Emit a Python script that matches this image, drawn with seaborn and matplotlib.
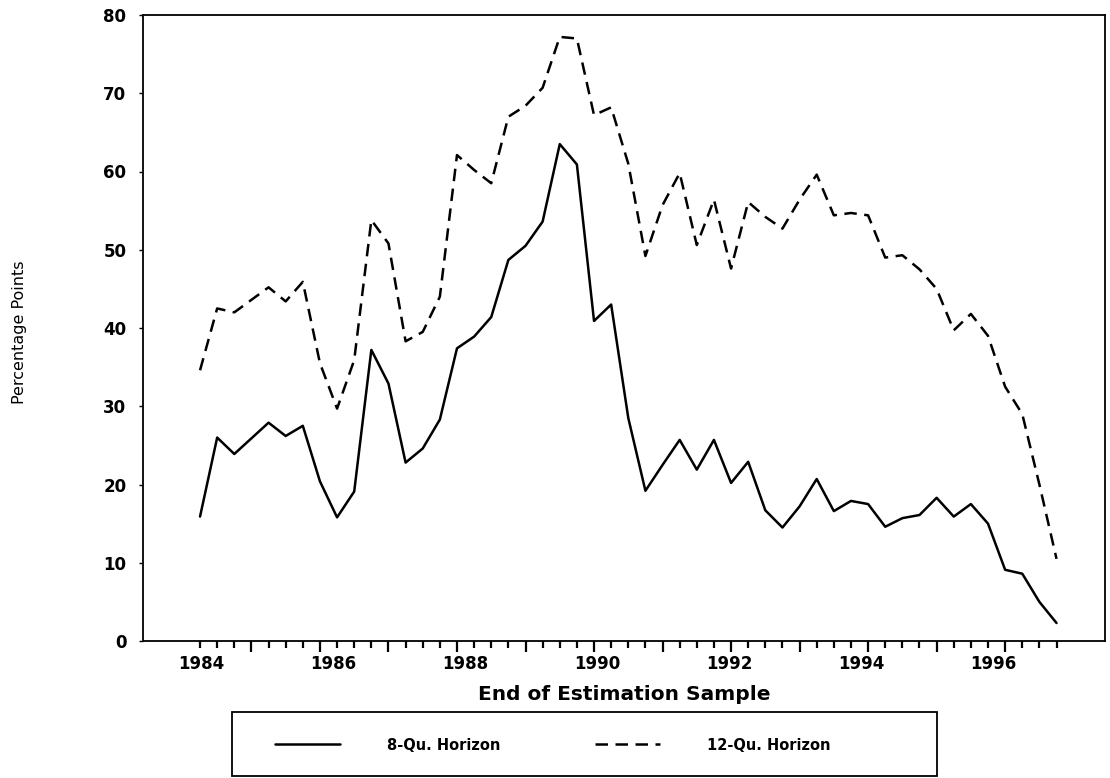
import matplotlib
matplotlib.use("Agg")
import matplotlib.pyplot as plt
from matplotlib.patches import Rectangle
import numpy as np
import pandas as pd
import seaborn as sns

# quarterly end-of-sample dates, 1984Q1 .. 1996Q3
quarters = 1984 + np.arange(51) / 4

h8 = [15.9, 26.0, 23.9, 25.9, 27.9, 26.2, 27.5, 20.4, 15.8, 19.1,
      37.2, 32.9, 22.8, 24.6, 28.3, 37.4, 38.9, 41.4, 48.7, 50.5,
      53.6, 63.5, 60.9, 40.9, 43.0, 28.5, 19.2, 22.5, 25.7, 21.9,
      25.7, 20.2, 22.9, 16.7, 14.5, 17.2, 20.7, 16.6, 17.9, 17.5,
      14.6, 15.7, 16.1, 18.3, 15.9, 17.5, 15.0, 9.1, 8.6, 5.0, 2.3]

h12 = [34.6, 42.5, 42.0, 43.6, 45.2, 43.4, 45.9, 35.5, 29.7, 35.9,
       53.8, 50.8, 38.3, 39.5, 44.0, 62.1, 60.2, 58.5, 67.0, 68.4,
       70.7, 77.2, 77.0, 67.2, 68.2, 61.0, 49.2, 55.7, 59.8, 50.6,
       56.4, 47.6, 56.1, 54.2, 52.7, 56.4, 59.6, 54.4, 54.7, 54.4,
       49.0, 49.3, 47.5, 45.0, 39.7, 41.8, 39.0, 32.5, 29.0, 20.0, 10.5]

series_names = ["8-Qu. Horizon", "12-Qu. Horizon"]
year_labels = ["1984", "1986", "1988", "1990", "1992", "1994", "1996"]
yticks = [0, 10, 20, 30, 40, 50, 60, 70, 80]

df = pd.concat([
    pd.DataFrame({"date": quarters, "value": h8, "series": series_names[0]}),
    pd.DataFrame({"date": quarters, "value": h12, "series": series_names[1]}),
])

sns.set_style("ticks")
plt.rcParams["font.family"] = ["DejaVu Sans"]
plt.rcParams.update({"text.color": "black", "axes.labelcolor": "black",
                     "xtick.color": "black", "ytick.color": "black"})

fig = plt.figure(figsize=(11.1, 7.78), dpi=100)
ax = fig.add_axes([143 / 1110, 1 - 641 / 778, 962 / 1110, 626 / 778])

sns.lineplot(data=df, x="date", y="value", style="series", color="black",
             dashes={series_names[0]: "", series_names[1]: (5, 3)},
             linewidth=1.8, ax=ax)

ax.set_xlim(1984 - 3.33 / 4, 1984 + 52.83 / 4)
ax.set_ylim(0, 80)
ax.set_yticks(yticks)
ax.set_yticklabels([str(v) for v in yticks], fontweight="bold", fontsize=12)
ax.tick_params(axis="y", length=3, width=1, pad=9)

# year marks (long) and quarter marks (short), no labels on them
ax.set_xticks(quarters[3::4])
ax.set_xticks(quarters, minor=True)
ax.set_xticklabels([])
ax.tick_params(axis="x", which="major", length=8, width=1.6, direction="out")
ax.tick_params(axis="x", which="minor", length=5, width=1.6, direction="out")

# the printed year labels drift slightly left of the quarter marks
lab = ax.secondary_xaxis("bottom")
lab.set_xticks([1984 + (int(y) - 1984) * 0.963 + 0.015 for y in year_labels])
lab.set_xticklabels(year_labels, fontweight="bold", fontsize=12)
lab.tick_params(length=0, pad=10)
lab.spines["bottom"].set_visible(False)

for s in ax.spines.values():
    s.set_linewidth(1.3)
    s.set_color("black")

ax.set_xlabel("")
ax.set_ylabel("")
fig.text(624 / 1110, 1 - 695 / 778, "End of Estimation Sample", ha="center", va="center",
         fontsize=14.5, fontweight="bold")
fig.text(20 / 1110, 1 - 332 / 778, "Percentage Points", ha="center", va="center",
         rotation=90, fontsize=11.5)

handles, labels = ax.get_legend_handles_labels()
ax.get_legend().remove()
fig.legend(handles, labels, loc="center left", bbox_to_anchor=(268 / 1110, 1 - 745 / 778),
           ncol=2, frameon=False, borderpad=0, handlelength=4.45, handletextpad=3.2,
           columnspacing=6.5, prop={"weight": "bold", "size": 10.5})
fig.add_artist(Rectangle((232 / 1110, 1 - 776 / 778), 705 / 1110, 64 / 778,
                         transform=fig.transFigure, fill=False, lw=1.3, ec="black"))

fig.savefig("out.png", dpi=100)
